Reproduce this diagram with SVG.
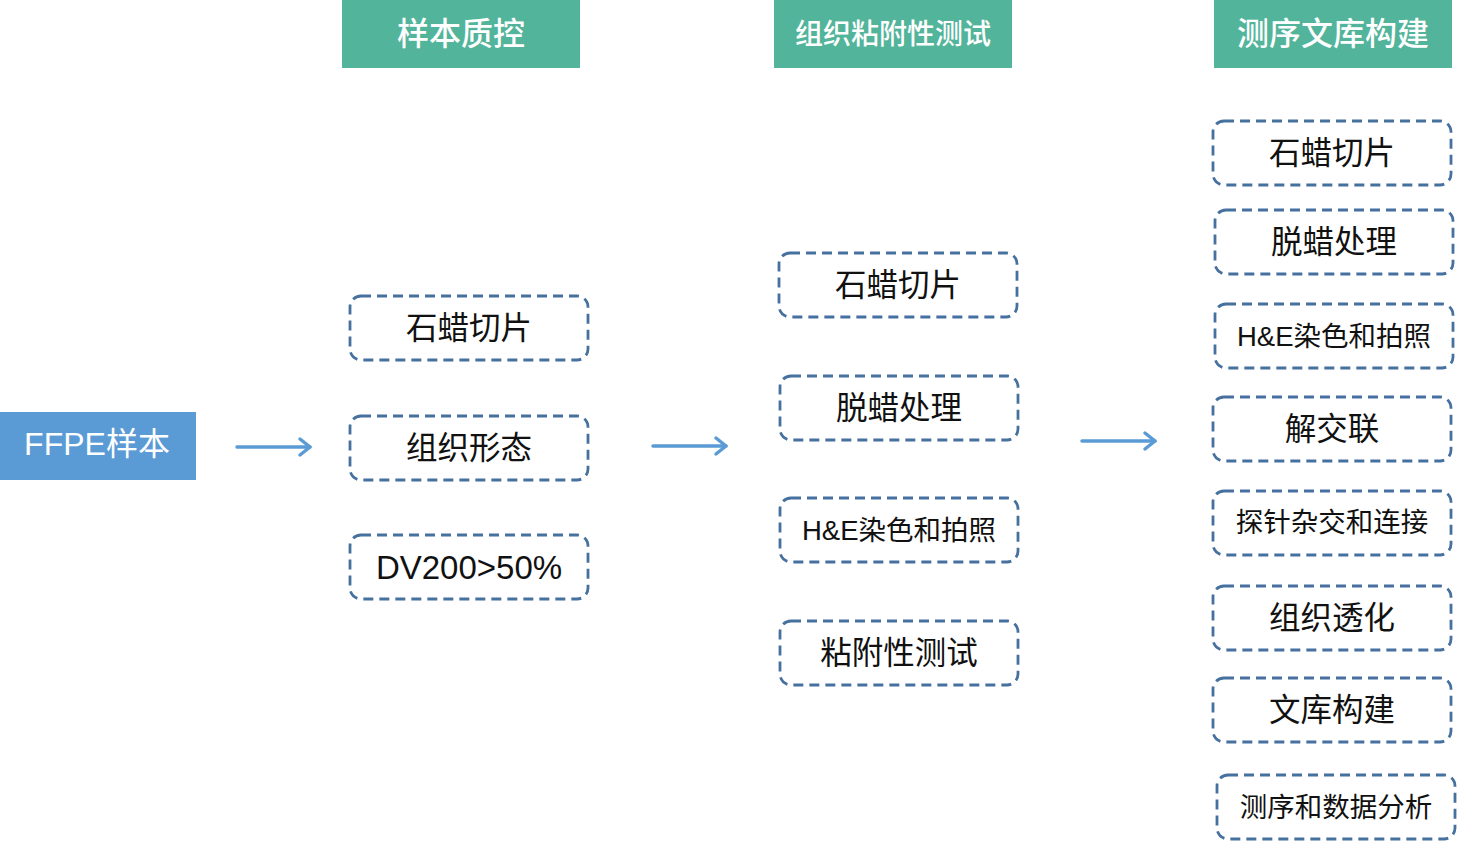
<svg xmlns="http://www.w3.org/2000/svg" width="1458" height="842" viewBox="0 0 1458 842">
<style>
text{font-family:"Liberation Sans","Noto Sans CJK SC",sans-serif;text-anchor:middle;dominant-baseline:central}
.hd rect{fill:#52b49a}
.hd text{fill:#fff;font-size:32px;font-weight:500}
.bx rect{fill:#fff;stroke:#46719f;stroke-width:2.8;stroke-dasharray:10 6}
.bx text{fill:#111;font-size:31.5px}
.sm text{font-size:27.5px}
.cn line,.cn path{stroke:#5b9bd5;stroke-width:3.5;fill:none;stroke-linecap:round;stroke-linejoin:round}
</style>
<rect width="1458" height="842" fill="#fff"/>
<g id="h1" class="hd"><rect x="342" y="0" width="238" height="68"/><text x="461" y="34">样本质控</text></g>
<g id="h2" class="hd"><rect x="774" y="0" width="238" height="68"/><text x="893" y="34" style="font-size:28px">组织粘附性测试</text></g>
<g id="h3" class="hd"><rect x="1214" y="0" width="238" height="68"/><text x="1333" y="34">测序文库构建</text></g>
<g id="ffpe"><rect x="0" y="412" width="196" height="68" fill="#5b9bd5"/><text x="97" y="444" fill="#fff" font-size="32">FFPE样本</text></g>
<g id="c1a" class="bx"><rect x="350" y="296" width="238" height="64" rx="11"/><text x="469" y="328">石蜡切片</text></g>
<g id="c1b" class="bx"><rect x="350" y="416" width="238" height="64" rx="11"/><text x="469" y="448">组织形态</text></g>
<g id="c1c" class="bx"><rect x="350" y="535" width="238" height="64" rx="11"/><text x="469" y="567" style="font-size:33px">DV200&gt;50%</text></g>
<g id="c2a" class="bx"><rect x="779" y="253" width="238" height="64" rx="11"/><text x="898" y="285">石蜡切片</text></g>
<g id="c2b" class="bx"><rect x="780" y="376" width="238" height="64" rx="11"/><text x="899" y="408">脱蜡处理</text></g>
<g id="c2c" class="bx sm"><rect x="780" y="498" width="238" height="64" rx="11"/><text x="899" y="530">H&amp;E染色和拍照</text></g>
<g id="c2d" class="bx"><rect x="780" y="621" width="238" height="64" rx="11"/><text x="899" y="653">粘附性测试</text></g>
<g id="c3a" class="bx"><rect x="1213" y="121" width="238" height="64" rx="11"/><text x="1332" y="153">石蜡切片</text></g>
<g id="c3b" class="bx"><rect x="1215" y="210" width="238" height="64" rx="11"/><text x="1334" y="242">脱蜡处理</text></g>
<g id="c3c" class="bx sm"><rect x="1215" y="304" width="238" height="64" rx="11"/><text x="1334" y="336">H&amp;E染色和拍照</text></g>
<g id="c3d" class="bx"><rect x="1213" y="397" width="238" height="64" rx="11"/><text x="1332" y="429">解交联</text></g>
<g id="c3e" class="bx sm"><rect x="1213" y="491" width="238" height="64" rx="11"/><text x="1332" y="522">探针杂交和连接</text></g>
<g id="c3f" class="bx"><rect x="1213" y="586" width="238" height="64" rx="11"/><text x="1332" y="618">组织透化</text></g>
<g id="c3g" class="bx"><rect x="1213" y="678" width="238" height="64" rx="11"/><text x="1332" y="710">文库构建</text></g>
<g id="c3h" class="bx sm"><rect x="1217" y="775" width="238" height="64" rx="11"/><text x="1336" y="807">测序和数据分析</text></g>
<g id="connectors" class="cn">
<line x1="237" y1="447" x2="310" y2="447"/><path d="M300 439 L310 447 L300 455"/>
<line x1="653" y1="446" x2="726" y2="446"/><path d="M716 438 L726 446 L716 454"/>
<line x1="1082" y1="441" x2="1155" y2="441"/><path d="M1145 433 L1155 441 L1145 449"/>
</g>
</svg>
